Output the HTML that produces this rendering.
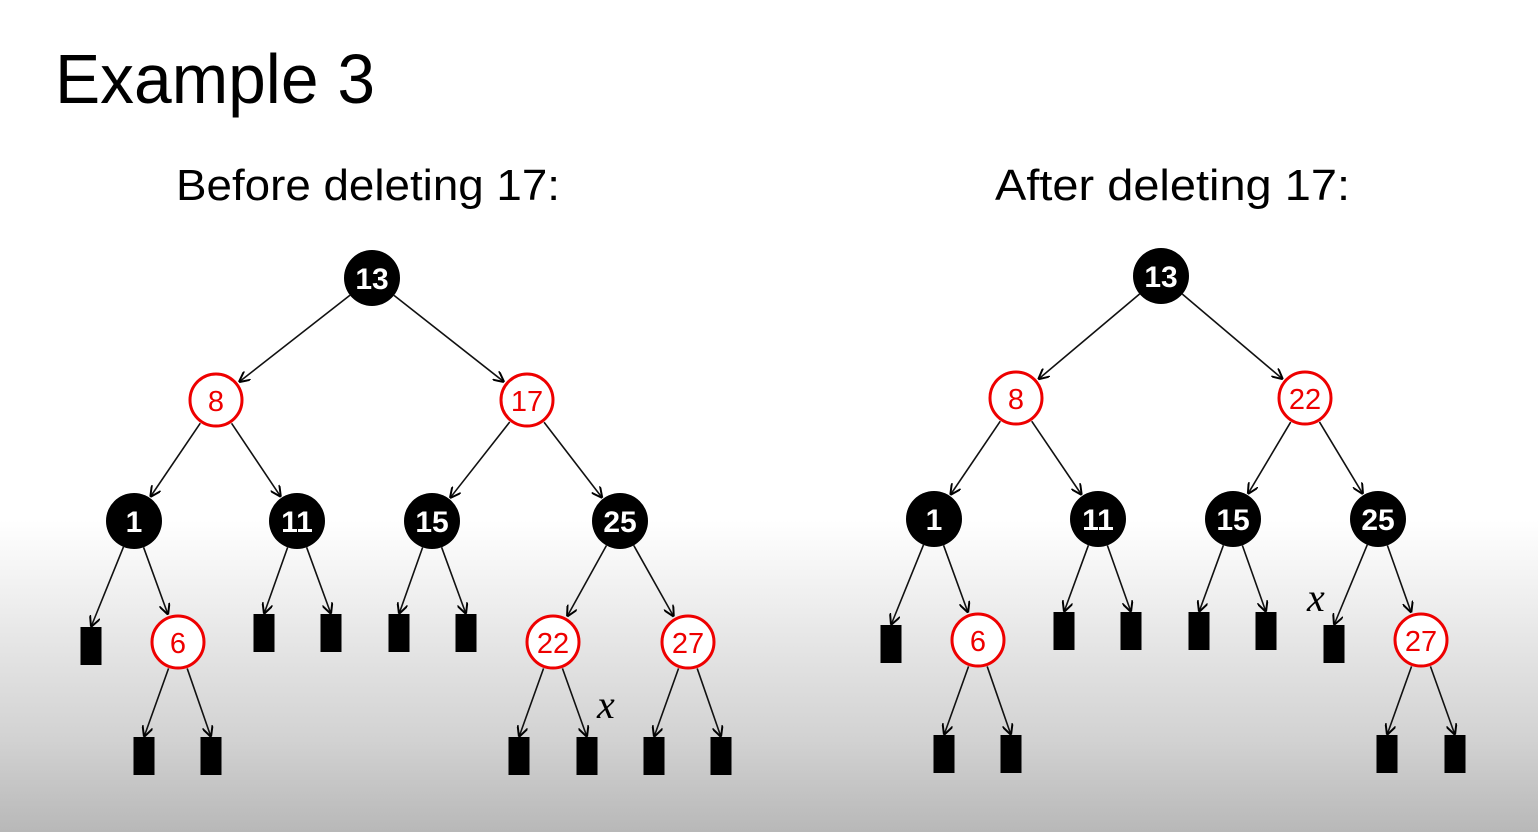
<!DOCTYPE html>
<html><head><meta charset="utf-8"><style>
html,body{margin:0;padding:0;}
body{width:1538px;height:832px;overflow:hidden;background:linear-gradient(to bottom,#fff 0px,#fff 520px,#e6e6e6 640px,#d2d2d2 740px,#b8b8b8 832px);}
svg{position:absolute;left:0;top:0;}
.t{font-family:"Liberation Sans",sans-serif;fill:#000;}
.bn{fill:#000;}
.rn{fill:#fff;stroke:#e00;stroke-width:3;}
.bl{font-family:"Liberation Sans",sans-serif;font-weight:bold;font-size:30px;fill:#fff;text-anchor:middle;}
.rl{font-family:"Liberation Sans",sans-serif;font-size:29px;fill:#e00;text-anchor:middle;}
.x{font-family:"Liberation Serif",serif;font-style:italic;font-size:40px;fill:#000;}
</style></head><body>
<svg width="1538" height="832" xmlns="http://www.w3.org/2000/svg">
<defs><marker id="a" viewBox="0 0 10 10" refX="10" refY="5" markerWidth="11" markerHeight="11" orient="auto" markerUnits="userSpaceOnUse"><path d="M0,0 L10,5 L0,10" fill="none" stroke="#000" stroke-width="1.8"/></marker></defs>
<text class="t" x="55" y="103" font-size="70" textLength="320" lengthAdjust="spacingAndGlyphs">Example 3</text>
<text class="t" x="176" y="200" font-size="44" textLength="384" lengthAdjust="spacingAndGlyphs">Before deleting 17:</text>
<text class="t" x="995" y="200" font-size="44" textLength="355" lengthAdjust="spacingAndGlyphs">After deleting 17:</text>
<g id="edges"></g>
<circle class="bn" cx="372" cy="278" r="28"/><text class="bl" x="372" y="289">13</text>
<circle class="rn" cx="216" cy="400" r="26"/><text class="rl" x="216" y="411">8</text>
<circle class="rn" cx="527" cy="400" r="26"/><text class="rl" x="527" y="411">17</text>
<circle class="bn" cx="134" cy="521" r="28"/><text class="bl" x="134" y="532">1</text>
<circle class="bn" cx="297" cy="521" r="28"/><text class="bl" x="297" y="532">11</text>
<circle class="bn" cx="432" cy="521" r="28"/><text class="bl" x="432" y="532">15</text>
<circle class="bn" cx="620" cy="521" r="28"/><text class="bl" x="620" y="532">25</text>
<circle class="rn" cx="178" cy="642" r="26"/><text class="rl" x="178" y="653">6</text>
<circle class="rn" cx="553" cy="642" r="26"/><text class="rl" x="553" y="653">22</text>
<circle class="rn" cx="688" cy="642" r="26"/><text class="rl" x="688" y="653">27</text>
<text class="x" x="597" y="718">x</text>
<circle class="bn" cx="1161" cy="276" r="28"/><text class="bl" x="1161" y="287">13</text>
<circle class="rn" cx="1016" cy="398" r="26"/><text class="rl" x="1016" y="409">8</text>
<circle class="rn" cx="1305" cy="398" r="26"/><text class="rl" x="1305" y="409">22</text>
<circle class="bn" cx="934" cy="519" r="28"/><text class="bl" x="934" y="530">1</text>
<circle class="bn" cx="1098" cy="519" r="28"/><text class="bl" x="1098" y="530">11</text>
<circle class="bn" cx="1233" cy="519" r="28"/><text class="bl" x="1233" y="530">15</text>
<circle class="bn" cx="1378" cy="519" r="28"/><text class="bl" x="1378" y="530">25</text>
<circle class="rn" cx="978" cy="640" r="26"/><text class="rl" x="978" y="651">6</text>
<circle class="rn" cx="1421" cy="640" r="26"/><text class="rl" x="1421" y="651">27</text>
<text class="x" x="1307" y="611">x</text>
</svg>
<script>
var R=28,LW=21,LH=38;
var E=[
[372,278,'n',216,400],[372,278,'n',527,400],[216,400,'n',134,521],[216,400,'n',297,521],
[527,400,'n',432,521],[527,400,'n',620,521],[134,521,'l',91,627],[134,521,'n',178,642],
[297,521,'l',264,614],[297,521,'l',331,614],[432,521,'l',399,614],[432,521,'l',466,614],
[620,521,'n',553,642],[620,521,'n',688,642],[178,642,'l',144,737],[178,642,'l',211,737],
[553,642,'l',519,737],[553,642,'l',587,737],[688,642,'l',654,737],[688,642,'l',721,737],
[1161,276,'n',1016,398],[1161,276,'n',1305,398],[1016,398,'n',934,519],[1016,398,'n',1098,519],
[1305,398,'n',1233,519],[1305,398,'n',1378,519],[934,519,'l',891,625],[934,519,'n',978,640],
[1098,519,'l',1064,612],[1098,519,'l',1131,612],[1233,519,'l',1199,612],[1233,519,'l',1266,612],
[1378,519,'l',1334,625],[1378,519,'n',1421,640],[978,640,'l',944,735],[978,640,'l',1011,735],
[1421,640,'l',1387,735],[1421,640,'l',1455,735]];
var g=document.getElementById('edges'),ns='http://www.w3.org/2000/svg';
E.forEach(function(e){
 var x1=e[0],y1=e[1],x2=e[3],y2=e[4];
 if(e[2]=='l'){var r=document.createElementNS(ns,'rect');r.setAttribute('x',x2-LW/2);r.setAttribute('y',y2);r.setAttribute('width',LW);r.setAttribute('height',LH);r.setAttribute('fill','#000');g.appendChild(r);}
 var tx=x2,ty=y2;var dx=tx-x1,dy=ty-y1,d=Math.sqrt(dx*dx+dy*dy);
 var sx=x1+dx/d*R,sy=y1+dy/d*R,ex=tx,ey=ty;
 if(e[2]=='n'){ex=tx-dx/d*(R+1);ey=ty-dy/d*(R+1);}
 var l=document.createElementNS(ns,'line');l.setAttribute('x1',sx);l.setAttribute('y1',sy);l.setAttribute('x2',ex);l.setAttribute('y2',ey);
 l.setAttribute('stroke','#111');l.setAttribute('stroke-width','1.6');l.setAttribute('marker-end','url(#a)');g.appendChild(l);
});
</script>
</body></html>
